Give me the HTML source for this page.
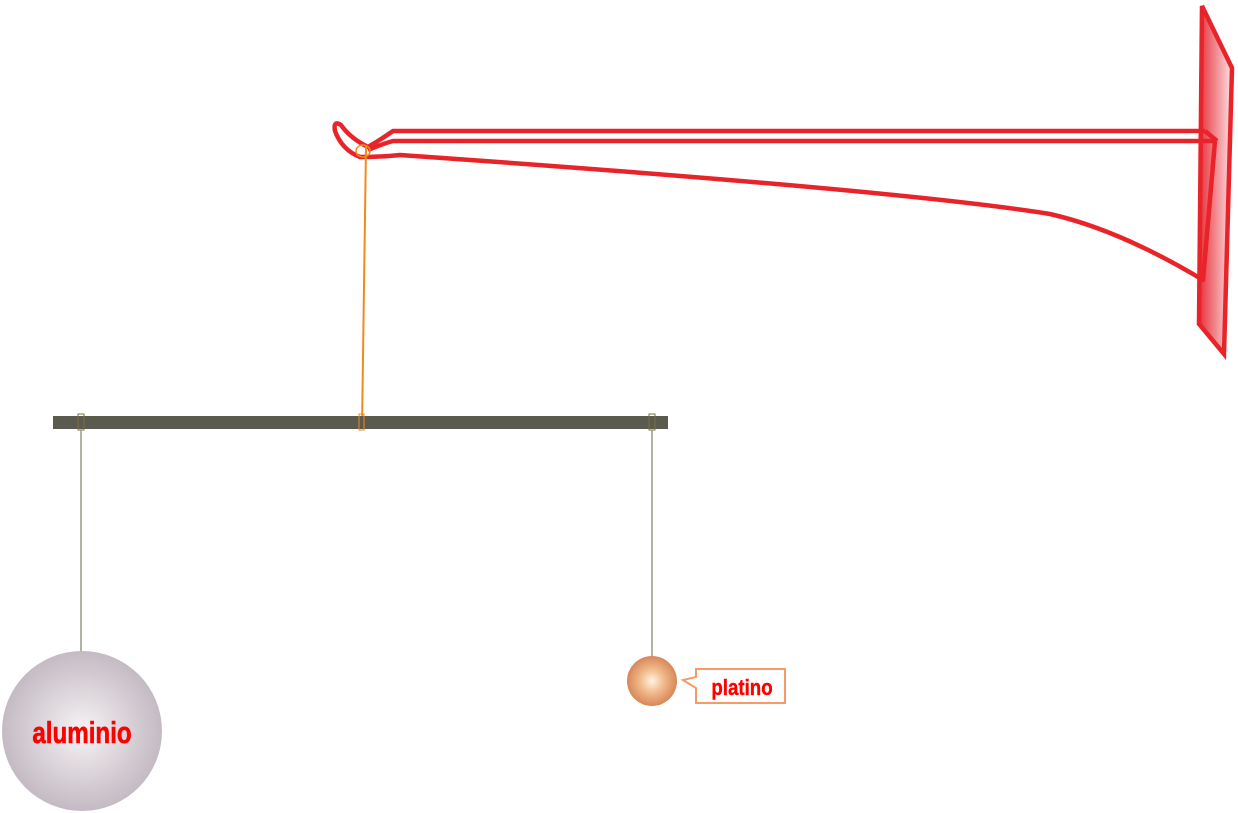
<!DOCTYPE html>
<html><head><meta charset="utf-8"><style>html,body{margin:0;padding:0;background:#fff}svg{display:block}</style></head>
<body>
<svg width="1238" height="813" viewBox="0 0 1238 813" xmlns="http://www.w3.org/2000/svg">
<defs>
<linearGradient id="wall" x1="0" y1="0" x2="1" y2="0">
<stop offset="0" stop-color="#e8303a"/><stop offset="1" stop-color="#fbe0e2"/></linearGradient>
<radialGradient id="al" cx="0.5" cy="0.5" r="0.5">
<stop offset="0" stop-color="#f6f3f5"/><stop offset="1" stop-color="#c4bac3"/></radialGradient>
<radialGradient id="pt" cx="0.5" cy="0.5" r="0.5">
<stop offset="0" stop-color="#fff3e0"/><stop offset="0.5" stop-color="#f0b888"/><stop offset="1" stop-color="#d8875a"/></radialGradient>
</defs>
<polygon points="1202,6 1232,68 1224,354 1199,324" fill="url(#wall)" stroke="#e8242a" stroke-width="4.5"/>
<path d="M1205,131 L393,131 Q380,140 368,147 Q350,138 341,125 Q333,120 335,131 Q342,150 360,157 Q380,157 400,155 Q900,190 1050,214 Q1120,230 1203,280 L1215,141 L393,141 Q385,143 368,150" fill="none" stroke="#e8242a" stroke-width="4.5" stroke-linejoin="round"/>
<line x1="1205" y1="131" x2="1217" y2="141" stroke="#e8242a" stroke-width="4.5"/>
<line x1="366" y1="146" x2="362" y2="428" stroke="#f08a1c" stroke-width="2"/>
<ellipse cx="363" cy="151" rx="7" ry="6" fill="none" stroke="#f08a1c" stroke-width="1.5"/>
<rect x="53" y="416" width="615" height="13" fill="#5b5a4e"/>
<rect x="78" y="414" width="6" height="16" fill="none" stroke="#7a7040" stroke-width="1"/>
<rect x="649" y="414" width="6" height="16" fill="none" stroke="#7a7040" stroke-width="1"/>
<rect x="359" y="414" width="5" height="16" fill="none" stroke="#f08a1c" stroke-width="1"/>
<line x1="81" y1="430" x2="81" y2="652" stroke="#9a9a80" stroke-width="1.5"/>
<line x1="652" y1="430" x2="652" y2="658" stroke="#9a9a80" stroke-width="1.5"/>
<circle cx="82" cy="731" r="80" fill="url(#al)"/>
<text x="82" y="743" text-anchor="middle" font-family="Liberation Sans, sans-serif" font-weight="bold" font-size="31" fill="#ff0000" stroke="#ff0000" stroke-width="0.6" transform="translate(82 0) scale(0.78 1) translate(-82 0)">aluminio</text>
<circle cx="652" cy="681" r="25" fill="url(#pt)"/>
<path d="M696,669 L785,669 L785,703 L696,703 L696,688 L683,680 L696,677 Z" fill="#fff" stroke="#f79a66" stroke-width="2"/>
<text x="742" y="695" text-anchor="middle" font-family="Liberation Sans, sans-serif" font-weight="bold" font-size="22" fill="#ff0000" stroke="#ff0000" stroke-width="0.4" transform="translate(742 0) scale(0.85 1) translate(-742 0)">platino</text>
</svg>
</body></html>
